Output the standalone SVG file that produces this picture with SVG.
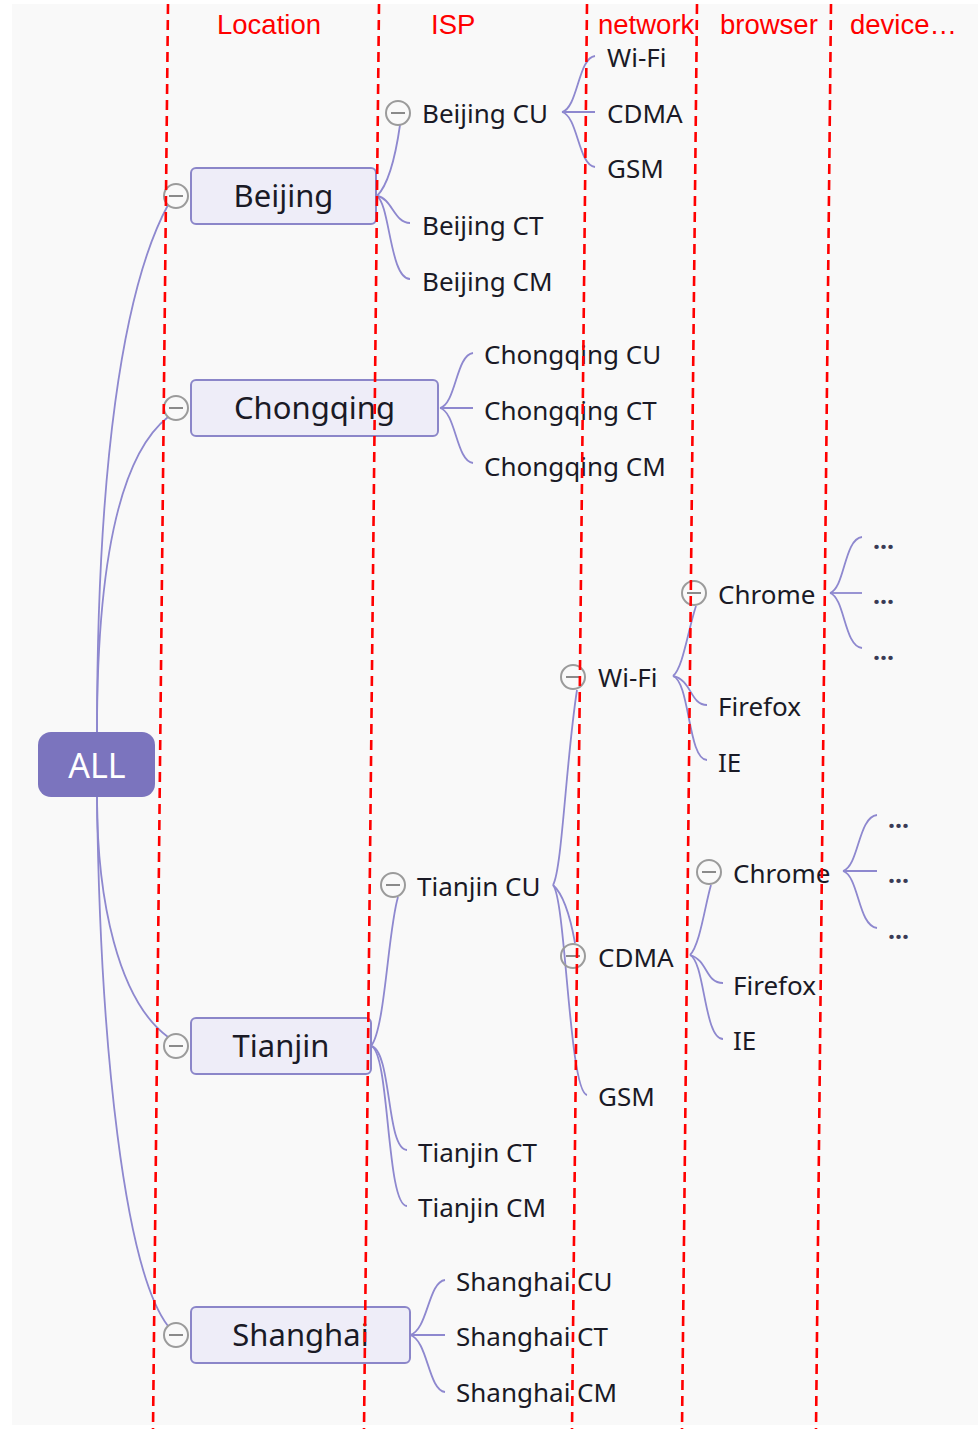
<svg xmlns="http://www.w3.org/2000/svg" width="978" height="1429" viewBox="0 0 978 1429">
<defs>
<style>
.bg{fill:#f9f9f9}
.hdr{font-family:"Liberation Sans",Arial,sans-serif;font-size:27.5px;fill:#ff0000}
.c{fill:none;stroke:#8e88cf;stroke-width:1.8}
.box{fill:#eeedf8;stroke:#8b86c9;stroke-width:2}
.root{fill:#7b74be}
.tr{font-family:"Noto Sans","Open Sans",sans-serif;font-size:34px;fill:#ffffff;text-anchor:middle}
.t1{font-family:"Noto Sans","Open Sans",sans-serif;font-size:31px;fill:#1a1a26;text-anchor:middle}
.t2{font-family:"Noto Sans","Open Sans",sans-serif;font-size:26px;fill:#1a1a26}
.dots{font-family:"Noto Sans","Open Sans",sans-serif;font-size:25px;font-weight:bold;fill:#3a3a55}
.col{fill:none;stroke:#9b9b9b;stroke-width:2}
.minus{stroke:#8a8a8a;stroke-width:2}
.guide{fill:none;stroke:#ff0000;stroke-width:2.6;stroke-dasharray:10 6}
</style>
</defs>
<rect x="0" y="0" width="978" height="1429" fill="#ffffff"/>
<rect class="bg" x="12" y="4" width="966" height="1421"/>

<g id="headers">
<text class="hdr" x="217" y="34">Location</text>
<text class="hdr" x="431" y="34">ISP</text>
<text class="hdr" x="598" y="34">network</text>
<text class="hdr" x="720" y="34">browser</text>
<text class="hdr" x="850" y="34">device…</text>
</g>

<g id="connectors">
<path class="c" d="M97,732 C97,470 122,290 168,205"/>
<path class="c" d="M97,732 C97,560 120,455 168,417"/>
<path class="c" d="M97,797 C97,900 118,1000 168,1037"/>
<path class="c" d="M97,797 C100,1050 125,1270 168,1326"/>

<path class="c" d="M377,196 C388,185 395,160 400,125"/>
<path class="c" d="M377,196 C392,198 394,223 410,223"/>
<path class="c" d="M377,196 C390,205 390,279 410,279"/>
<path class="c" d="M562,112 C578,108 578,58 595,56"/>
<path class="c" d="M562,112 L595,112"/>
<path class="c" d="M562,112 C578,116 578,165 595,167"/>

<path class="c" d="M440,408 C456,404 456,355 473,353"/>
<path class="c" d="M440,408 L473,408"/>
<path class="c" d="M440,408 C456,412 456,461 473,463"/>

<path class="c" d="M371,1046 C385,1030 388,930 398,897"/>
<path class="c" d="M371,1046 C392,1050 386,1150 407,1150"/>
<path class="c" d="M371,1046 C390,1052 386,1206 407,1206"/>
<path class="c" d="M553,885 C562,870 566,760 577,690"/>
<path class="c" d="M553,885 C562,893 570,915 575,943"/>
<path class="c" d="M553,885 C566,900 569,1092 587,1095"/>

<path class="c" d="M673,676 C683,668 688,630 696,606"/>
<path class="c" d="M673,676 C692,680 690,705 707,705"/>
<path class="c" d="M673,676 C690,682 688,760 707,760"/>
<path class="c" d="M830,593 C845,588 844,539 862,537"/>
<path class="c" d="M830,593 L862,593"/>
<path class="c" d="M830,593 C845,598 844,646 862,648"/>

<path class="c" d="M690,955 C700,945 705,905 711,885"/>
<path class="c" d="M690,955 C708,960 705,983 723,983"/>
<path class="c" d="M690,955 C705,962 704,1039 723,1039"/>
<path class="c" d="M843,871 C859,866 858,817 877,815"/>
<path class="c" d="M843,871 L877,871"/>
<path class="c" d="M843,871 C859,876 858,926 877,928"/>

<path class="c" d="M410,1335 C428,1330 428,1282 445,1280"/>
<path class="c" d="M410,1335 L445,1335"/>
<path class="c" d="M410,1335 C428,1340 428,1390 445,1392"/>
</g>

<g id="node-all">
<rect class="root" x="38" y="732" width="117" height="65" rx="13"/>
<text class="tr" x="97" y="778">ALL</text>
</g>

<g id="node-beijing">
<circle class="col" cx="176" cy="196" r="12"/><line class="minus" x1="169" y1="196" x2="183" y2="196"/>
<rect class="box" x="191" y="168" width="185" height="56" rx="5"/>
<text class="t1" x="283.5" y="207">Beijing</text>
</g>
<g id="node-beijing-cu">
<circle class="col" cx="398" cy="113" r="12"/><line class="minus" x1="391" y1="113" x2="405" y2="113"/>
<text class="t2" x="422" y="123">Beijing CU</text>
</g>
<g id="node-beijing-cu-wifi"><text class="t2" x="607" y="67">Wi-Fi</text></g>
<g id="node-beijing-cu-cdma"><text class="t2" x="607" y="123">CDMA</text></g>
<g id="node-beijing-cu-gsm"><text class="t2" x="607" y="178">GSM</text></g>
<g id="node-beijing-ct"><text class="t2" x="422" y="235">Beijing CT</text></g>
<g id="node-beijing-cm"><text class="t2" x="422" y="291">Beijing CM</text></g>

<g id="node-chongqing">
<circle class="col" cx="176" cy="408" r="12"/><line class="minus" x1="169" y1="408" x2="183" y2="408"/>
<rect class="box" x="191" y="380" width="247" height="56" rx="5"/>
<text class="t1" x="314.5" y="419">Chongqing</text>
</g>
<g id="node-chongqing-cu"><text class="t2" x="484" y="364">Chongqing CU</text></g>
<g id="node-chongqing-ct"><text class="t2" x="484" y="420">Chongqing CT</text></g>
<g id="node-chongqing-cm"><text class="t2" x="484" y="476">Chongqing CM</text></g>

<g id="node-tianjin">
<circle class="col" cx="176" cy="1046" r="12"/><line class="minus" x1="169" y1="1046" x2="183" y2="1046"/>
<rect class="box" x="191" y="1018" width="180" height="56" rx="5"/>
<text class="t1" x="281" y="1057">Tianjin</text>
</g>
<g id="node-tianjin-cu">
<circle class="col" cx="393" cy="885" r="12"/><line class="minus" x1="386" y1="885" x2="400" y2="885"/>
<text class="t2" x="417" y="896">Tianjin CU</text>
</g>
<g id="node-tianjin-wifi">
<circle class="col" cx="573" cy="677" r="12"/><line class="minus" x1="566" y1="677" x2="580" y2="677"/>
<text class="t2" x="598" y="687">Wi-Fi</text>
</g>
<g id="node-wifi-chrome">
<circle class="col" cx="694" cy="593" r="12"/><line class="minus" x1="687" y1="593" x2="701" y2="593"/>
<text class="t2" x="718" y="604">Chrome</text>
</g>
<g id="node-wifi-chrome-d1"><text class="dots" x="873" y="549">...</text></g>
<g id="node-wifi-chrome-d2"><text class="dots" x="873" y="604">...</text></g>
<g id="node-wifi-chrome-d3"><text class="dots" x="873" y="660">...</text></g>
<g id="node-wifi-firefox"><text class="t2" x="718" y="716">Firefox</text></g>
<g id="node-wifi-ie"><text class="t2" x="718" y="772">IE</text></g>
<g id="node-tianjin-cdma">
<circle class="col" cx="573" cy="956" r="12"/><line class="minus" x1="566" y1="956" x2="580" y2="956"/>
<text class="t2" x="598" y="967">CDMA</text>
</g>
<g id="node-cdma-chrome">
<circle class="col" cx="709" cy="872" r="12"/><line class="minus" x1="702" y1="872" x2="716" y2="872"/>
<text class="t2" x="733" y="883">Chrome</text>
</g>
<g id="node-cdma-chrome-d1"><text class="dots" x="888" y="828">...</text></g>
<g id="node-cdma-chrome-d2"><text class="dots" x="888" y="883">...</text></g>
<g id="node-cdma-chrome-d3"><text class="dots" x="888" y="939">...</text></g>
<g id="node-cdma-firefox"><text class="t2" x="733" y="995">Firefox</text></g>
<g id="node-cdma-ie"><text class="t2" x="733" y="1050">IE</text></g>
<g id="node-tianjin-gsm"><text class="t2" x="598" y="1106">GSM</text></g>
<g id="node-tianjin-ct"><text class="t2" x="418" y="1162">Tianjin CT</text></g>
<g id="node-tianjin-cm"><text class="t2" x="418" y="1217">Tianjin CM</text></g>

<g id="node-shanghai">
<circle class="col" cx="176" cy="1335" r="12"/><line class="minus" x1="169" y1="1335" x2="183" y2="1335"/>
<rect class="box" x="191" y="1307" width="219" height="56" rx="5"/>
<text class="t1" x="300.5" y="1346">Shanghai</text>
</g>
<g id="node-shanghai-cu"><text class="t2" x="456" y="1291">Shanghai CU</text></g>
<g id="node-shanghai-ct"><text class="t2" x="456" y="1346">Shanghai CT</text></g>
<g id="node-shanghai-cm"><text class="t2" x="456" y="1402">Shanghai CM</text></g>

<g id="guides">
<line class="guide" x1="168" y1="4" x2="153" y2="1429"/>
<line class="guide" x1="379" y1="4" x2="364" y2="1429"/>
<line class="guide" x1="587" y1="4" x2="572" y2="1429"/>
<line class="guide" x1="697" y1="4" x2="682" y2="1429"/>
<line class="guide" x1="831" y1="4" x2="816" y2="1429"/>
</g>
</svg>
